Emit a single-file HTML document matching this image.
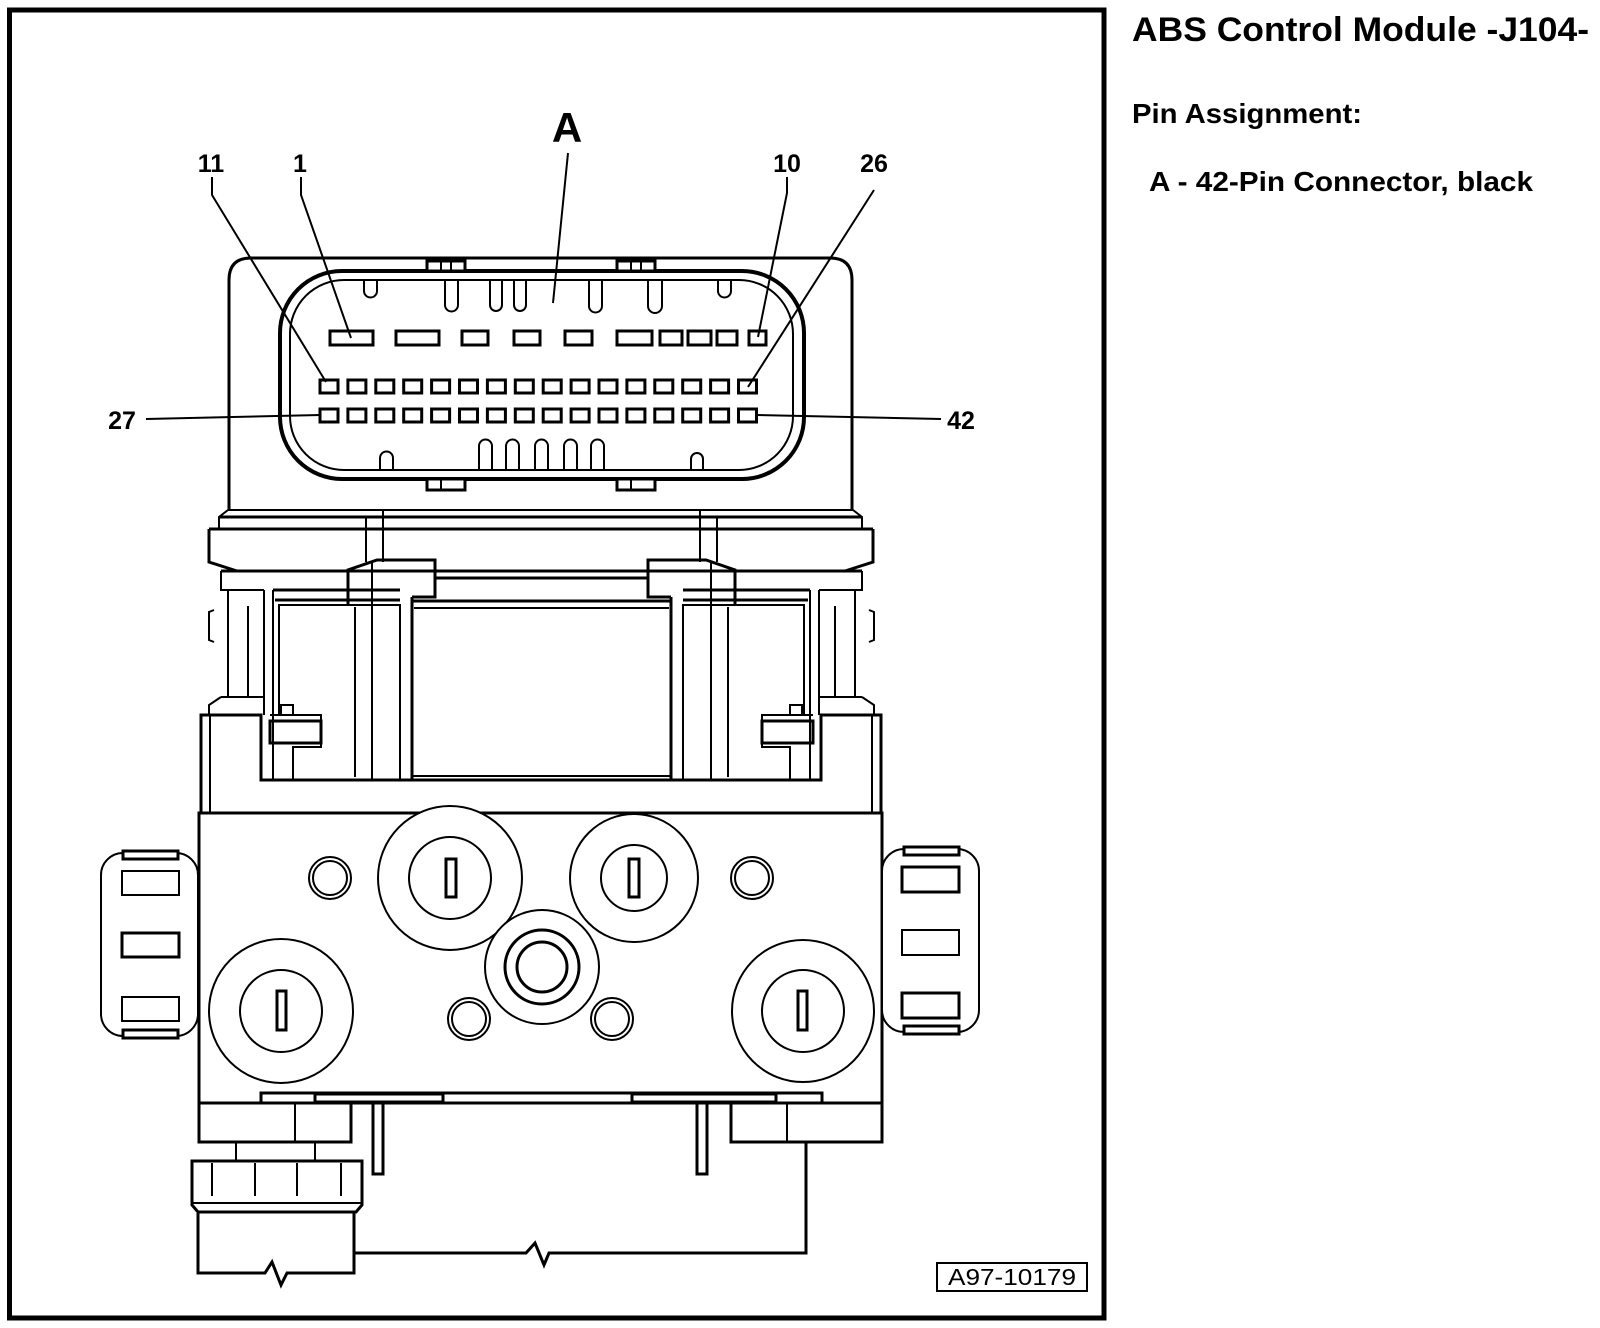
<!DOCTYPE html>
<html><head><meta charset="utf-8"><style>
html,body{margin:0;padding:0;background:#fff;}
svg{display:block;}
text{font-family:"Liberation Sans",Arial,sans-serif;font-weight:bold;fill:#000;}
</style></head><body>
<svg width="1600" height="1328" viewBox="0 0 1600 1328" xmlns="http://www.w3.org/2000/svg">
<rect x="0" y="0" width="1600" height="1328" fill="#fff"/>
<!-- frame -->
<rect x="9.5" y="10" width="1094.5" height="1308" fill="none" stroke="#000" stroke-width="5"/>

<!-- right text -->
<text x="1132" y="41" font-size="34" textLength="457" lengthAdjust="spacingAndGlyphs">ABS Control Module -J104-</text>
<text x="1132" y="123" font-size="28" textLength="230" lengthAdjust="spacingAndGlyphs">Pin Assignment:</text>
<text x="1149" y="191" font-size="28" textLength="384" lengthAdjust="spacingAndGlyphs">A - 42-Pin Connector, black</text>

<!-- labels -->
<text x="567" y="142" font-size="42" text-anchor="middle">A</text>
<text x="211" y="172" font-size="25" text-anchor="middle">11</text>
<text x="300" y="172" font-size="25" text-anchor="middle">1</text>
<text x="787" y="172" font-size="25" text-anchor="middle">10</text>
<text x="874" y="172" font-size="25" text-anchor="middle">26</text>
<text x="122" y="429" font-size="25" text-anchor="middle">27</text>
<text x="961" y="429" font-size="25" text-anchor="middle">42</text>

<g fill="none" stroke="#000" stroke-width="2">
<!-- connector housing -->
<path d="M229,510 L229,280 Q229,258 251,258 L830,258 Q852,258 852,280 L852,510" stroke-width="3"/>
<rect x="280" y="271" width="524" height="208" rx="62" ry="62" stroke-width="4" fill="#fff"/>
<rect x="290" y="280" width="503" height="190" rx="54" ry="54" stroke-width="2"/>
<rect x="427" y="261" width="38" height="10" stroke-width="3" fill="#fff"/>
<rect x="617" y="261" width="38" height="10" stroke-width="3" fill="#fff"/>
<rect x="427" y="479" width="38" height="11" stroke-width="3" fill="#fff"/>
<rect x="617" y="479" width="38" height="11" stroke-width="3" fill="#fff"/>
<line x1="441" y1="261" x2="441" y2="271"/><line x1="451" y1="261" x2="451" y2="271"/>
<line x1="631" y1="261" x2="631" y2="271"/><line x1="641" y1="261" x2="641" y2="271"/>
<line x1="441" y1="479" x2="441" y2="490"/><line x1="631" y1="479" x2="631" y2="490"/>
<!-- top prongs -->
<path d="M364,281 L364,291 A6.5,6.5 0 0 0 377,291 L377,281"/>
<path d="M445,281 L445,305 A6.5,6.5 0 0 0 458,305 L458,281"/>
<path d="M490,281 L490,305 A6,6 0 0 0 502,305 L502,281"/>
<path d="M514,281 L514,305 A6,6 0 0 0 526,305 L526,281"/>
<path d="M589,281 L589,306 A6.5,6.5 0 0 0 602,306 L602,281"/>
<path d="M648,281 L648,306 A7,7 0 0 0 662,306 L662,281"/>
<path d="M718,281 L718,291 A6.5,6.5 0 0 0 731,291 L731,281"/>
<!-- bottom prongs -->
<path d="M380,470 L380,458 A6.5,6.5 0 0 1 393,458 L393,470"/>
<path d="M479,470 L479,446 A6.5,6.5 0 0 1 492,446 L492,470"/>
<path d="M506,470 L506,446 A6.5,6.5 0 0 1 519,446 L519,470"/>
<path d="M535,470 L535,446 A6.5,6.5 0 0 1 548,446 L548,470"/>
<path d="M564,470 L564,446 A6.5,6.5 0 0 1 577,446 L577,470"/>
<path d="M591,470 L591,446 A6.5,6.5 0 0 1 604,446 L604,470"/>
<path d="M691,470 L691,459 A6,6 0 0 1 703,459 L703,470"/>
</g>
<!-- pins -->
<g fill="none" stroke="#000" stroke-width="3">
<rect x="330" y="331" width="43" height="14"/>
<rect x="396" y="331" width="43" height="14"/>
<rect x="462" y="331" width="26" height="14"/>
<rect x="514" y="331" width="26" height="14"/>
<rect x="565" y="331" width="27" height="14"/>
<rect x="617" y="331" width="35" height="14"/>
<rect x="660" y="331" width="22" height="14"/>
<rect x="688" y="331" width="23" height="14"/>
<rect x="717" y="331" width="20" height="14"/>
<rect x="749" y="331" width="17" height="14"/>
<rect x="320.0" y="380" width="18" height="13"/><rect x="347.9" y="380" width="18" height="13"/><rect x="375.8" y="380" width="18" height="13"/><rect x="403.7" y="380" width="18" height="13"/><rect x="431.6" y="380" width="18" height="13"/><rect x="459.5" y="380" width="18" height="13"/><rect x="487.4" y="380" width="18" height="13"/><rect x="515.3" y="380" width="18" height="13"/><rect x="543.2" y="380" width="18" height="13"/><rect x="571.1" y="380" width="18" height="13"/><rect x="599.0" y="380" width="18" height="13"/><rect x="626.9" y="380" width="18" height="13"/><rect x="654.8" y="380" width="18" height="13"/><rect x="682.7" y="380" width="18" height="13"/><rect x="710.6" y="380" width="18" height="13"/><rect x="738.5" y="380" width="18" height="13"/>
<rect x="320.0" y="409" width="18" height="13"/><rect x="347.9" y="409" width="18" height="13"/><rect x="375.8" y="409" width="18" height="13"/><rect x="403.7" y="409" width="18" height="13"/><rect x="431.6" y="409" width="18" height="13"/><rect x="459.5" y="409" width="18" height="13"/><rect x="487.4" y="409" width="18" height="13"/><rect x="515.3" y="409" width="18" height="13"/><rect x="543.2" y="409" width="18" height="13"/><rect x="571.1" y="409" width="18" height="13"/><rect x="599.0" y="409" width="18" height="13"/><rect x="626.9" y="409" width="18" height="13"/><rect x="654.8" y="409" width="18" height="13"/><rect x="682.7" y="409" width="18" height="13"/><rect x="710.6" y="409" width="18" height="13"/><rect x="738.5" y="409" width="18" height="13"/>
</g>
<!-- leaders (on top) -->
<g fill="none" stroke="#000" stroke-width="2">
<polyline points="212,177 212,195 326,382"/>
<polyline points="301,177 301,195 351,338"/>
<line x1="568" y1="153" x2="553" y2="303"/>
<polyline points="787,177 787,193 758,337"/>
<line x1="874" y1="190" x2="748" y2="387"/>
<line x1="146" y1="419" x2="320" y2="415"/>
<line x1="941" y1="419" x2="756" y2="415"/>
</g>

<!-- middle structure -->
<g fill="none" stroke="#000" stroke-width="2">
<line x1="228" y1="510" x2="853" y2="510"/>
<path d="M228,510 L219,517 L219,529 M853,510 L862,517 L862,529"/>
<line x1="219" y1="517" x2="862" y2="517" stroke-width="3"/>
<line x1="209" y1="529" x2="873" y2="529" stroke-width="3"/>
<path d="M209,529 L209,562 L237,571 M873,529 L873,562 L845,571" stroke-width="3"/>
<line x1="221" y1="571" x2="862" y2="571" stroke-width="3"/>
<line x1="435" y1="578" x2="648" y2="578" stroke-width="3"/>
<g id="half">
<line x1="366" y1="517" x2="366" y2="562"/>
<line x1="383" y1="510" x2="383" y2="562"/>
<path d="M348,605 L348,570 L377,560 L435,560 L435,597 L412,597" stroke-width="3"/>
<line x1="355" y1="607" x2="355" y2="777"/>
<line x1="372" y1="562" x2="372" y2="780"/>
<path d="M221,571 L221,590 L264,590 M228,590 L228,697 M221,697 L264,697 L264,590" />
<line x1="248" y1="606" x2="248" y2="697"/>
<path d="M221,697 L209,705 L209,715 M264,697 L264,715" stroke-width="2"/>
<path d="M214,610 L209,612 L209,640 L214,642"/>
<line x1="273" y1="590" x2="400" y2="590" stroke-width="3"/>
<line x1="273" y1="590" x2="273" y2="780"/>
<line x1="275" y1="600" x2="400" y2="600" stroke-width="3"/>
<path d="M279,715 L279,605 L400,605 L400,780"/>
<line x1="412" y1="597" x2="412" y2="780" stroke-width="3"/>
<rect x="270" y="721" width="51" height="22" stroke-width="3"/>
<path d="M270,715 L321,715 L321,747 L293,747 L293,780"/>
<path d="M281,714 L281,705 L293,705 L293,714"/>
</g>
<use href="#half" transform="translate(1083,0) scale(-1,1)"/>
<line x1="412" y1="601" x2="671" y2="601" stroke-width="3"/>
<line x1="414" y1="608" x2="669" y2="608"/>
<line x1="412" y1="776" x2="671" y2="776"/>
<path d="M201,813 L201,715 L261,715 L261,780 L821,780 L821,715 L881,715 L881,813" stroke-width="3"/>
<line x1="210" y1="715" x2="210" y2="813"/>
<line x1="872" y1="715" x2="872" y2="813"/>
<rect x="199" y="813" width="683" height="290" stroke-width="3"/>
</g>

<!-- clips -->
<g fill="none" stroke="#000" stroke-width="2">
<rect x="101" y="853" width="97" height="183" rx="22" fill="#fff"/>
<rect x="123" y="851" width="55" height="8" stroke-width="3" fill="#fff"/>
<rect x="123" y="1030" width="55" height="8" stroke-width="3" fill="#fff"/>
<rect x="122" y="871" width="57" height="24"/>
<rect x="122" y="933" width="57" height="24" stroke-width="3"/>
<rect x="122" y="997" width="57" height="24"/>
<rect x="882" y="849" width="97" height="183" rx="22" fill="#fff"/>
<rect x="904" y="847" width="55" height="8" stroke-width="3" fill="#fff"/>
<rect x="904" y="1026" width="55" height="8" stroke-width="3" fill="#fff"/>
<rect x="902" y="867" width="57" height="25" stroke-width="3"/>
<rect x="902" y="930" width="57" height="25"/>
<rect x="902" y="993" width="57" height="25" stroke-width="3"/>
</g>

<!-- circles -->
<g fill="none" stroke="#000" stroke-width="2">
<circle cx="450" cy="878" r="72" fill="#fff"/>
<circle cx="450" cy="878" r="41"/>
<rect x="446" y="859" width="10" height="38" stroke-width="3"/>
<circle cx="634" cy="878" r="64" fill="#fff"/>
<circle cx="634" cy="878" r="33"/>
<rect x="629" y="859" width="10" height="38" stroke-width="3"/>
<circle cx="542" cy="967" r="57" fill="#fff"/>
<circle cx="542" cy="967" r="37" stroke-width="3"/>
<circle cx="542" cy="967" r="25" stroke-width="3"/>
<circle cx="281" cy="1011" r="72"/>
<circle cx="281" cy="1011" r="41"/>
<rect x="277" y="991" width="9" height="39" stroke-width="3"/>
<circle cx="803" cy="1011" r="71"/>
<circle cx="803" cy="1011" r="41"/>
<rect x="798" y="991" width="9" height="39" stroke-width="3"/>
<circle cx="330" cy="878" r="21"/><circle cx="330" cy="878" r="17"/>
<circle cx="752" cy="878" r="21"/><circle cx="752" cy="878" r="17"/>
<circle cx="469" cy="1019" r="21"/><circle cx="469" cy="1019" r="17"/>
<circle cx="612" cy="1019" r="21"/><circle cx="612" cy="1019" r="17"/>
</g>

<!-- bottom -->
<g fill="none" stroke="#000" stroke-width="2">
<path d="M261,1103 L261,1093 L822,1093 L822,1103" stroke-width="3"/>
<rect x="315" y="1094" width="128" height="8" stroke-width="3"/>
<rect x="632" y="1094" width="144" height="8" stroke-width="3"/>
<rect x="199" y="1103" width="152" height="39" stroke-width="3"/>
<line x1="295" y1="1103" x2="295" y2="1142"/>
<rect x="731" y="1103" width="151" height="39" stroke-width="3"/>
<line x1="787" y1="1103" x2="787" y2="1142"/>
<rect x="373" y="1102" width="10" height="72" stroke-width="3"/>
<rect x="697" y="1102" width="10" height="72" stroke-width="3"/>
<line x1="236" y1="1142" x2="236" y2="1161"/>
<line x1="315" y1="1142" x2="315" y2="1161"/>
<path d="M192,1161 L362,1161 L362,1205 L356,1212 L198,1212 L192,1205 Z" stroke-width="3"/>
<line x1="192" y1="1203" x2="362" y2="1203"/>
<line x1="212" y1="1163" x2="212" y2="1196"/>
<line x1="255" y1="1163" x2="255" y2="1196"/>
<line x1="297" y1="1163" x2="297" y2="1196"/>
<line x1="341" y1="1163" x2="341" y2="1196"/>
<path d="M198,1213 L198,1273 L265,1273 L272,1262 L281,1285 L287,1273 L354,1273 L354,1213" stroke-width="3"/>
<path d="M354,1253 L526,1253 L535,1243 L544,1265 L549,1253 L806,1253 L806,1142" stroke-width="3"/>
<rect x="937" y="1263" width="150" height="28" stroke-width="2"/>
</g>
<text x="1012" y="1285" font-size="23" style="font-weight:normal" text-anchor="middle" textLength="128" lengthAdjust="spacingAndGlyphs">A97-10179</text>
</svg>
</body></html>
